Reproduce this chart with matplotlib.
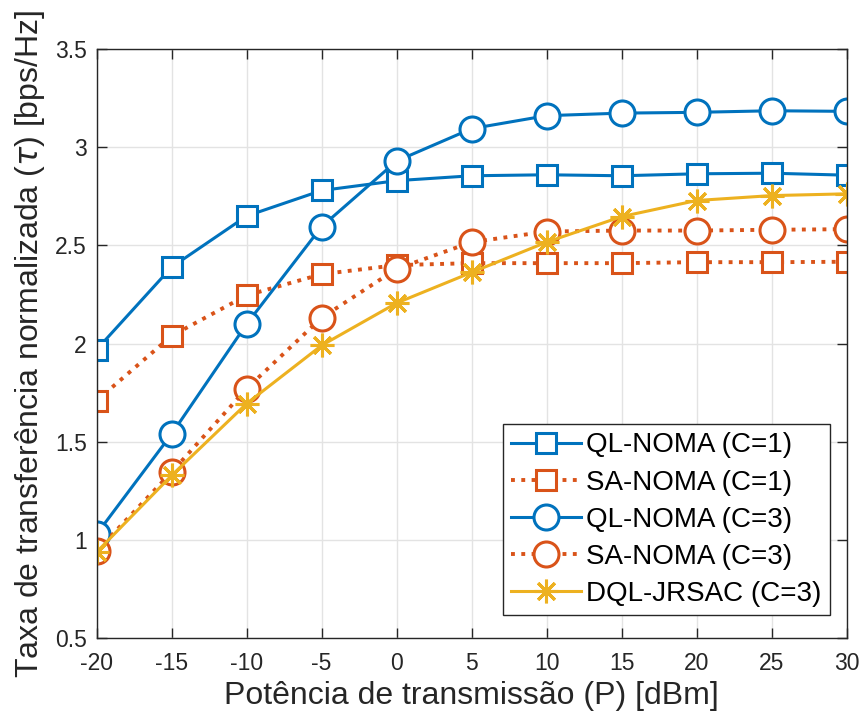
import matplotlib
matplotlib.use("Agg")
import matplotlib.pyplot as plt

plt.rcParams['font.family'] = ['Liberation Sans', 'DejaVu Sans']
plt.rcParams['mathtext.fontset'] = 'dejavusans'

potencia = [-20, -15, -10, -5, 0, 5, 10, 15, 20, 25, 30]

ql_c1 = [1.97, 2.39, 2.65, 2.78, 2.83, 2.855, 2.86, 2.855, 2.865, 2.868, 2.858]
sa_c1 = [1.71, 2.04, 2.246, 2.354, 2.40, 2.41, 2.41, 2.41, 2.415, 2.415, 2.417]
ql_c3 = [1.03, 1.54, 2.10, 2.596, 2.93, 3.095, 3.161, 3.174, 3.178, 3.186, 3.183]
sa_c3 = [0.944, 1.346, 1.771, 2.132, 2.381, 2.517, 2.571, 2.576, 2.576, 2.58, 2.583]
dql_c3 = [0.939, 1.329, 1.695, 1.991, 2.207, 2.363, 2.517, 2.647, 2.729, 2.754, 2.763]

labels = ["QL-NOMA (C=1)", "SA-NOMA (C=1)", "QL-NOMA (C=3)",
          "SA-NOMA (C=3)", "DQL-JRSAC (C=3)"]

azul = "#0072BD"
laranja = "#D95319"
amarelo = "#EDB120"

fig = plt.figure(figsize=(8.63, 7.22), dpi=100)
ax = fig.add_axes([0.112, 0.116, 0.869, 0.816])

lw = 2.2
ax.plot(potencia, ql_c1, '-', color=azul, lw=lw, marker='s', ms=14,
        mfc='white', mew=2.2, label=labels[0])
ax.plot(potencia, sa_c1, ':', color=laranja, lw=lw + 0.6, marker='s', ms=14,
        mfc='white', mew=2.2, label=labels[1])
ax.plot(potencia, ql_c3, '-', color=azul, lw=lw, marker='o', ms=18,
        mfc='white', mew=2.2, label=labels[2])
ax.plot(potencia, sa_c3, ':', color=laranja, lw=lw + 0.6, marker='o', ms=18,
        mfc='white', mew=2.2, label=labels[3])
ax.plot(potencia, dql_c3, '-', color=amarelo, lw=lw, marker=(8, 2, 0), ms=17,
        mew=2.2, label=labels[4])

ax.set_xlim(-20, 30)
ax.set_ylim(0.5, 3.5)
xt = list(range(-20, 31, 5))
ax.set_xticks(xt)
ax.set_xticklabels([str(v) for v in xt])
yt = [0.5, 1, 1.5, 2, 2.5, 3, 3.5]
ax.set_yticks(yt)
ax.set_yticklabels(["0.5", "1", "1.5", "2", "2.5", "3", "3.5"])
ax.tick_params(direction='in', top=True, right=True, labelsize=16.5,
               length=7, width=1, colors='#262626', labelcolor='#262626')
ax.tick_params(axis='x', pad=10)
ax.tick_params(axis='y', pad=7)
ax.grid(True, color='#e3e3e3', lw=1)
ax.set_axisbelow(True)
for s in ax.spines.values():
    s.set_color('#262626')
    s.set_linewidth(1)

ax.set_xlabel("Potência de transmissão (P) [dBm]", fontsize=23, labelpad=4,
              color='#262626')
ax.set_ylabel(r"Taxa de transferência normalizada ($\tau$) [bps/Hz]", fontsize=23,
              labelpad=6, color='#262626')

leg = ax.legend(loc='lower right', bbox_to_anchor=(0.978, 0.039), fontsize=20,
                handlelength=2.5, borderpad=0.3, labelspacing=0.4,
                handletextpad=0.2, borderaxespad=0, fancybox=False,
                framealpha=1, edgecolor='#262626')
leg.get_frame().set_linewidth(1)
for t in leg.get_texts():
    t.set_color('black')

fig.savefig("out.png", dpi=100)
